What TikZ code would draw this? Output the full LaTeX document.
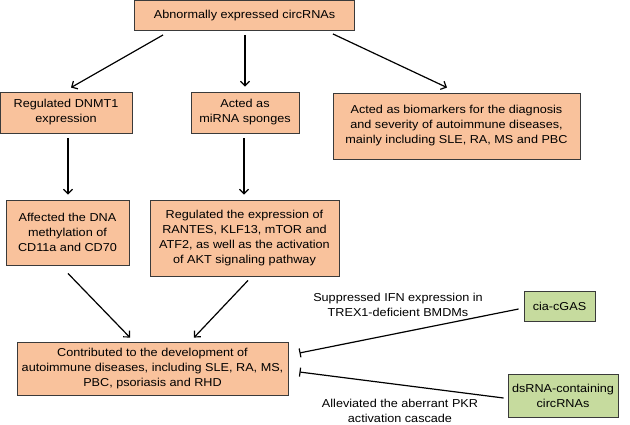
\documentclass[tikz,border=0pt]{standalone}
\usepackage{fontspec}
\setmainfont{Liberation Sans}[FakeStretch=1.1]
\usetikzlibrary{arrows.meta,calc}
\definecolor{boxor}{HTML}{F9C29C}
\definecolor{boxgr}{HTML}{C6DB9E}
\definecolor{edge}{HTML}{3A3A3A}
\begin{document}
\begin{tikzpicture}[x=1pt,y=-1pt,
  txt/.style={align=center,inner sep=0pt,font=\fontsize{11.5}{15}\selectfont},
  ob/.style={txt,draw=edge,line width=0.9pt,fill=boxor},
  gb/.style={txt,draw=edge,line width=0.9pt,fill=boxgr},
  arr/.style={line width=1.2pt,-{Straight Barb[length=4.5pt,width=9pt,line width=1.2pt]}},
  inh/.style={line width=1.2pt,-{Bar[width=9pt,line width=1.2pt]}}]
\useasboundingbox (0,0) rectangle (630,425);
\node[ob,minimum width=220pt,minimum height=30pt] (top) at (244.5,15.5) {Abnormally expressed circRNAs};
\node[ob,minimum width=132pt,minimum height=41pt] (dnmt) at (66,112.5) {Regulated DNMT1\\expression};
\node[ob,minimum width=108pt,minimum height=41pt] (mirna) at (245,112.5) {Acted as\\miRNA sponges};
\node[ob,minimum width=247pt,minimum height=66pt] (bio) at (456.5,126) {Acted as biomarkers for the diagnosis\\and severity of autoimmune diseases,\\mainly including SLE, RA, MS and PBC};
\node[ob,minimum width=123pt,minimum height=65pt] (aff) at (67.5,232.5) {Affected the DNA\\methylation of\\CD11a and CD70};
\node[ob,minimum width=189pt,minimum height=76pt] (reg) at (244.5,238) {Regulated the expression of\\RANTES, KLF13, mTOR and\\ATF2, as well as the activation\\of AKT signaling pathway};
\node[ob,minimum width=271pt,minimum height=53pt] (con) at (152.5,368.5) {Contributed to the development of\\autoimmune diseases, including SLE, RA, MS,\\PBC, psoriasis and RHD};
\node[gb,minimum width=71pt,minimum height=30pt] (cia) at (559.5,306) {cia-cGAS};
\node[gb,minimum width=110pt,minimum height=43pt] (ds) at (563,395.5) {dsRNA-containing\\circRNAs};
\node[txt] (l1) at (398,304.5) {Suppressed IFN expression in\\TREX1-deficient BMDMs};
\node[txt] (l2) at (400,410.5) {Alleviated the aberrant PKR\\activation cascade};
\draw[arr] ([shift={(29,4)}]top.south west) -- ([shift={(5,-4)}]dnmt.north);
\draw[arr] ([shift={(0.5,4)}]top.south) -- ([shift={(0,-5)}]mirna.north);
\draw[arr] ([shift={(-22,3)}]top.south east) -- ([shift={(-9.5,-5)}]bio.north);
\draw[arr] ([shift={(2,5)}]dnmt.south) -- ([shift={(0.5,-5)}]aff.north);
\draw[arr] ([shift={(-1,5)}]mirna.south) -- ([shift={(-0.5,-5)}]reg.north);
\draw[arr] ([shift={(0.5,8)}]aff.south) -- ([shift={(-22.5,-4)}]con.north);
\draw[arr] ([shift={(3.5,4)}]reg.south) -- ([shift={(41.5,-4)}]con.north);
\draw[inh] ([shift={(-5,3)}]cia.west) -- ([shift={(11,-15.5)}]con.east);
\draw[inh] ([shift={(-4,2.5)}]ds.west) -- ([shift={(11,3.5)}]con.east);
\end{tikzpicture}
\end{document}
